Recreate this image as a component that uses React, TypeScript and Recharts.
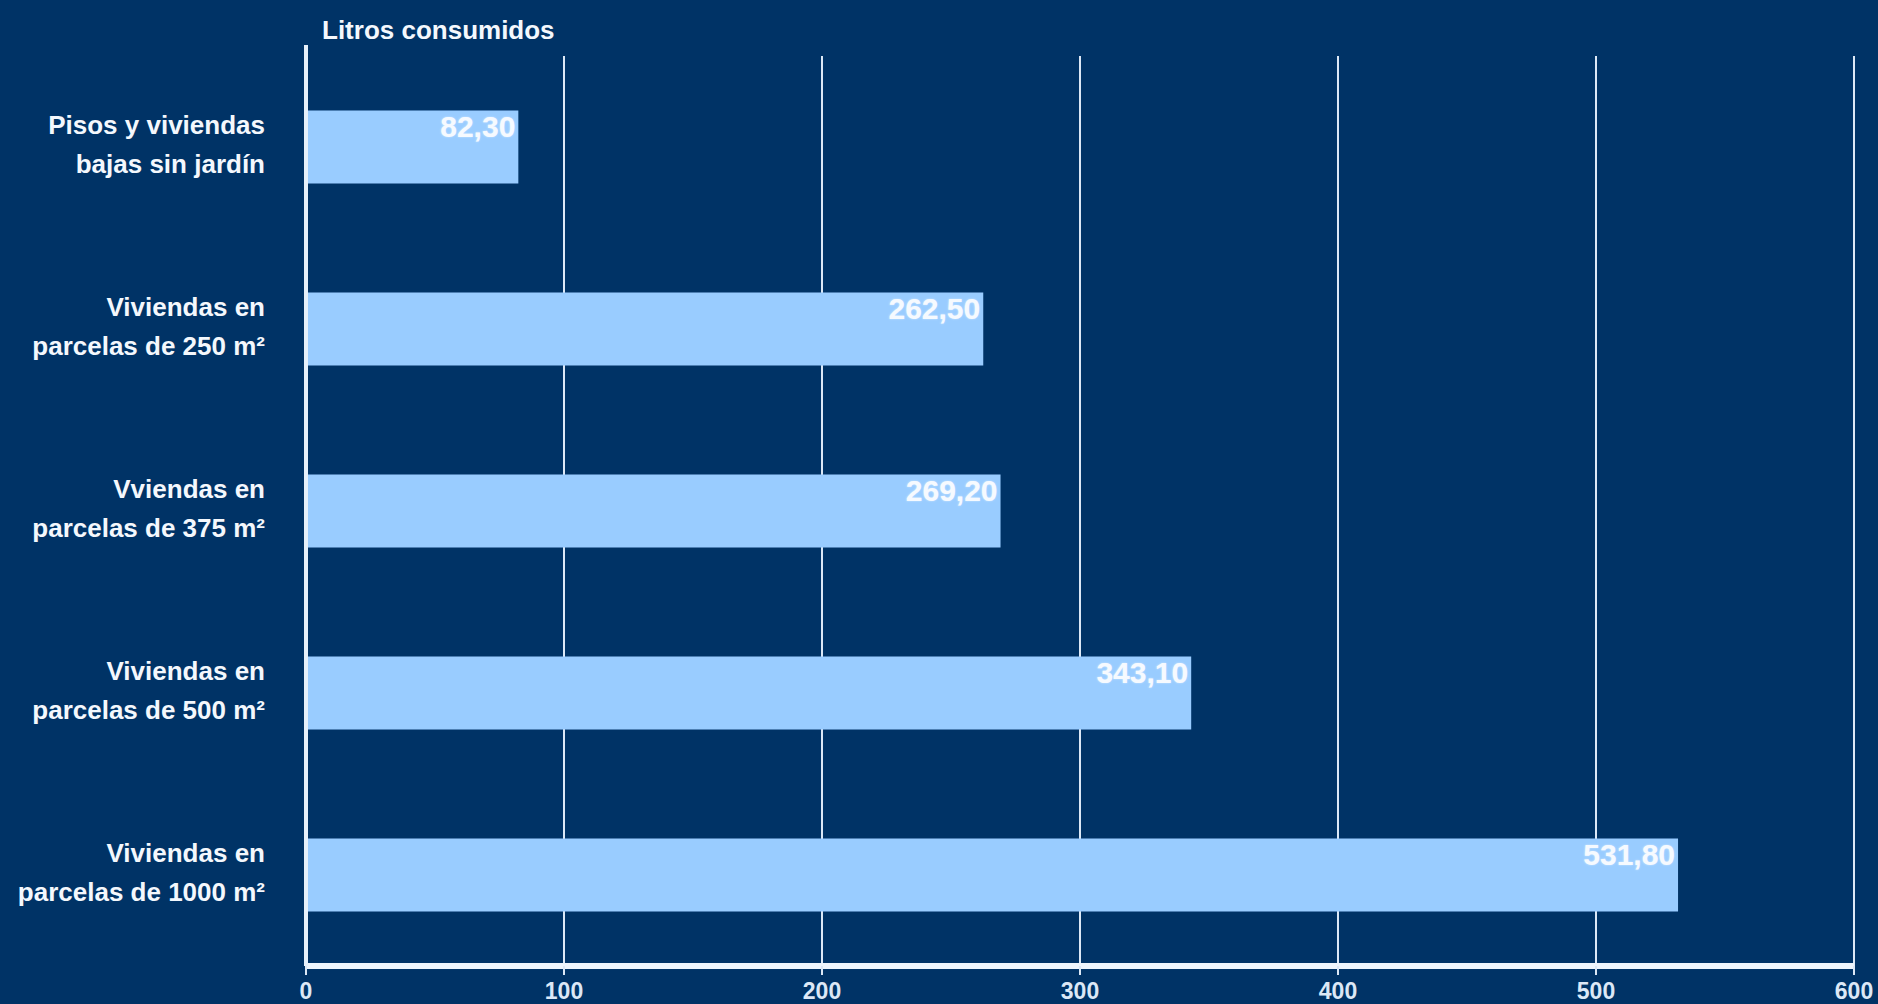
import { BarChart, Bar, XAxis, YAxis, CartesianGrid, LabelList, useOffset } from "recharts";

// categories (each split in two lines, as in the original slide)
const categories = [
  ["Pisos y viviendas", "bajas sin jardín"],
  ["Viviendas en", "parcelas de 250 m²"],
  ["Vviendas en", "parcelas de 375 m²"],
  ["Viviendas en", "parcelas de 500 m²"],
  ["Viviendas en", "parcelas de 1000 m²"],
];
const litros = [82.3, 262.5, 269.2, 343.1, 531.8];
const xTicks = [0, 100, 200, 300, 400, 500, 600];
const axisTitle = "Litros consumidos";

const data = categories.map((lines, i) => ({
  name: lines.join(" "),
  lines,
  value: litros[i],
}));

const BG = "#003366";
const BAR = "#99ccff";
const FONT = "'Liberation Sans', Arial, sans-serif";

const fmt = (v: number) => v.toFixed(2).replace(".", ",");

const CategoryTick = (props: any) => {
  const { x, y, payload } = props;
  const item = data.find((d) => d.name === payload.value);
  const lines = item ? item.lines : [String(payload.value)];
  return (
    <text
      x={x}
      y={y}
      textAnchor="end"
      fill="#f4f8fd"
      fontFamily={FONT}
      fontWeight="bold"
      fontSize={26}
    >
      <tspan x={x} dy={-13}>{lines[0]}</tspan>
      <tspan x={x} dy={39}>{lines[1]}</tspan>
    </text>
  );
};

const ValueTick = (props: any) => {
  const { x, y, payload } = props;
  return (
    <text
      x={x}
      y={y}
      dy={24}
      textAnchor="middle"
      fill="#dce8f6"
      fontFamily={FONT}
      fontWeight="bold"
      fontSize={23}
    >
      {payload.value}
    </text>
  );
};

const ValueLabel = (props: any) => {
  const { x, y, width, value } = props;
  return (
    <text
      x={x + width - 3}
      y={y + 26}
      textAnchor="end"
      fill="#f6faff"
      fontFamily={FONT}
      fontWeight="bold"
      fontSize={30}
      style={{ textShadow: "0 0 2px #d6eaff" }}
    >
      {fmt(value)}
    </text>
  );
};

// y axis line reaching above the plot, plus the axis title
const AxisExtras = () => {
  const offset = useOffset();
  if (!offset) return null;
  return (
    <g>
      <line
        x1={offset.left}
        x2={offset.left}
        y1={offset.top - 11}
        y2={offset.top + 2}
        stroke="#e6f0fa"
        strokeWidth={4}
      />
      <text
        x={offset.left + 16}
        y={offset.top - 17}
        fill="#f4f8fd"
        fontFamily={FONT}
        fontWeight="bold"
        fontSize={26}
      >
        {axisTitle}
      </text>
    </g>
  );
};

export default function App() {
  return (
    <div style={{ position: "fixed", left: 0, top: 0, width: 1878, height: 1004, background: BG }}>
      <BarChart
        width={1878}
        height={1004}
        data={data}
        layout="vertical"
        margin={{ top: 56, right: 24, bottom: 8, left: 0 }}
        barCategoryGap="30%"
      >
        <CartesianGrid horizontal={false} stroke="#dce8f6" strokeWidth={2} />
        <XAxis
          type="number"
          domain={[0, 600]}
          ticks={xTicks}
          interval={0}
          height={30}
          axisLine={{ stroke: "#eef5fc", strokeWidth: 6 }}
          tickLine={{ stroke: "#dce8f6", strokeWidth: 2 }}
          tickSize={9}
          tickMargin={0}
          tick={<ValueTick />}
          allowDataOverflow
        />
        <YAxis
          type="category"
          dataKey="name"
          width={306}
          axisLine={{ stroke: "#e6f0fa", strokeWidth: 4 }}
          tickLine={false}
          tickSize={0}
          tickMargin={41}
          interval={0}
          tick={<CategoryTick />}
        />
        <Bar dataKey="value" fill={BAR} isAnimationActive={false}>
          <LabelList dataKey="value" content={<ValueLabel />} />
        </Bar>
        <AxisExtras />
      </BarChart>
    </div>
  );
}
